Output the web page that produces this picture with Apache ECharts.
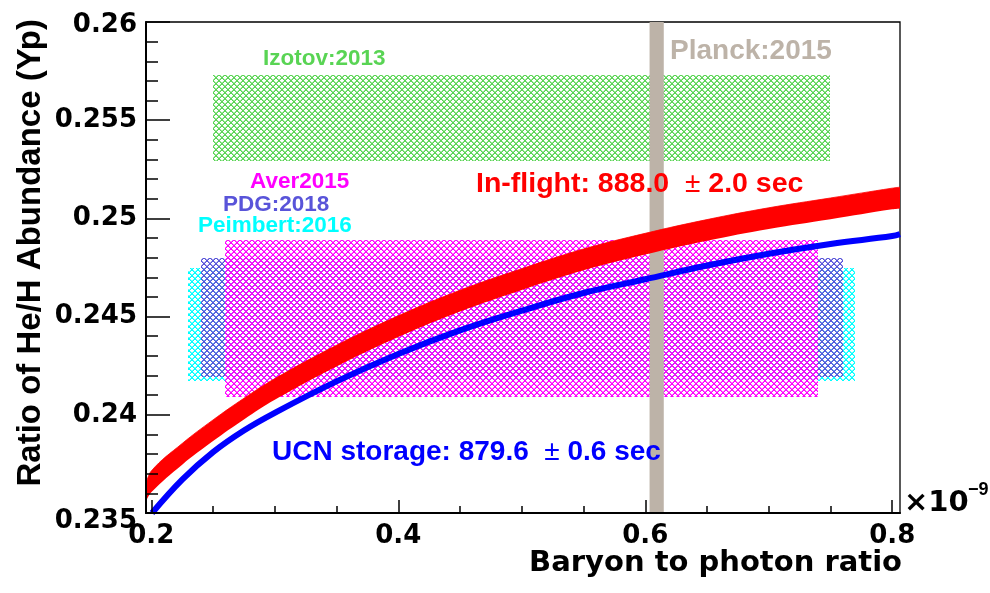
<!DOCTYPE html>
<html>
<head>
<meta charset="utf-8">
<script src="https://cdn.jsdelivr.net/npm/echarts@6/dist/echarts.min.js"></script>
<style>
  html, body { margin: 0; padding: 0; background: #ffffff; }
  #chart { width: 990px; height: 593px; }
</style>
</head>
<body>
<div id="chart"></div>
<script>
// ---- axes ----
const xRange = [0.1957, 0.8063];
const xMajorTicks = [0.2, 0.4, 0.6, 0.8];
const xMinorTicks = [0.2, 0.25, 0.3, 0.35, 0.4, 0.45, 0.5, 0.55, 0.6, 0.65, 0.7, 0.75, 0.8];
const yRange = [0.235, 0.26];
const yStep = 0.005;

// ---- measured helium abundance ranges (Yp) ----
const boxNames = ['Peimbert:2016', 'PDG:2018', 'Aver2015', 'Izotov:2013'];
const boxEtaFrom = [0.23, 0.24, 0.26, 0.25];
const boxEtaTo = [0.77, 0.76, 0.74, 0.75];
const boxYpLow = [0.2417, 0.2419, 0.2409, 0.2529];
const boxYpHigh = [0.2475, 0.2480, 0.2489, 0.2573];

// ---- Planck 2015 baryon-to-photon ratio ----
const planckEta = [0.6035, 0.615];

// ---- BBN prediction, in-flight neutron lifetime 888.0 +- 2.0 s ----
const inflightEta   = [0.1957, 0.200, 0.225, 0.250, 0.275, 0.300, 0.350, 0.400, 0.450, 0.500, 0.550, 0.600, 0.650, 0.700, 0.750, 0.800, 0.8063];
const inflightUpper = [0.2364, 0.23714, 0.23854, 0.23974, 0.24084, 0.24184, 0.24354, 0.24504, 0.24634, 0.24744, 0.24844, 0.24924, 0.24994, 0.25054, 0.25104, 0.25154, 0.25159];
const inflightLower = [0.2356, 0.23606, 0.23746, 0.23866, 0.23976, 0.24076, 0.24246, 0.24396, 0.24526, 0.24636, 0.24736, 0.24816, 0.24886, 0.24946, 0.24996, 0.25046, 0.25051];

// ---- BBN prediction, UCN storage lifetime 879.6 +- 0.6 s ----
const ucnEta = [0.2006, 0.225, 0.250, 0.275, 0.300, 0.350, 0.400, 0.450, 0.500, 0.550, 0.600, 0.650, 0.700, 0.750, 0.800, 0.8063];
const ucnYp  = [0.2350, 0.2367, 0.2381, 0.2392, 0.2401, 0.2417, 0.2431, 0.2443, 0.2453, 0.2462, 0.2469, 0.2476, 0.2482, 0.2487, 0.2491, 0.2492];

// ---- styling ----
const palette = {
  'Peimbert:2016': '#00ffff',
  'PDG:2018': '#5954d9',
  'Aver2015': '#ff00ff',
  'Izotov:2013': '#59d454',
  planck: '#bdb3a8',
  inflight: '#ff0000',
  ucn: '#0000ff'
};
const tickFont = { fontFamily: 'DejaVu Sans', fontWeight: 'bold', fontSize: 26, color: '#000' };

// cross-hatch fill tile: two diagonals on a 6px cell, one solid pixel plus a soft neighbour per row
function hatchTile(color) {
  const n = 6;
  const c = document.createElement('canvas');
  c.width = n; c.height = n;
  const g = c.getContext('2d');
  g.fillStyle = color;
  g.globalAlpha = 0.6;
  for (let i = 0; i < n; i++) {
    g.fillRect((i + 1) % n, i, 1, 1);
    g.fillRect((n - 2 - i + n) % n, i, 1, 1);
  }
  g.globalAlpha = 1;
  for (let i = 0; i < n; i++) {
    g.fillRect(i, i, 1, 1);
    g.fillRect(n - 1 - i, i, 1, 1);
  }
  return c;
}
const hatchFills = boxNames.map(n => ({ image: hatchTile(palette[n]), repeat: 'repeat' }));

const boxData = boxNames.map((n, i) => [boxEtaFrom[i], boxEtaTo[i], boxYpLow[i], boxYpHigh[i]]);
// band rows are [Yp, eta] so that the stack runs along the Yp dimension
const inflightLowData = inflightEta.map((x, i) => [inflightLower[i], x]);
const inflightWidthData = inflightEta.map((x, i) => [inflightUpper[i] - inflightLower[i], x]);
const ucnData = ucnEta.map((x, i) => [x, ucnYp[i]]);

const chart = echarts.init(document.getElementById('chart'), null, { renderer: 'canvas', width: 990, height: 593 });

const bold = (size, family) => `bold ${size}px ${family || '"Liberation Sans", Arial, sans-serif'}`;

chart.setOption({
  animation: false,
  backgroundColor: '#ffffff',
  grid: {
    left: 146, top: 22, width: 754, height: 491,
    show: true, borderColor: '#000', borderWidth: 1.3, backgroundColor: 'transparent'
  },
  xAxis: [
    {
      type: 'value', min: xRange[0], max: xRange[1], position: 'bottom', z: 10,
      axisLine: { show: true, onZero: false, lineStyle: { color: '#000', width: 2 } },
      axisTick: { show: true, inside: true, length: 13, customValues: xMajorTicks, lineStyle: { color: '#000', width: 1.5 } },
      axisLabel: Object.assign({ margin: 10, customValues: xMajorTicks, formatter: v => String(+v.toFixed(2)) }, tickFont),
      splitLine: { show: false }
    },
    {
      type: 'value', min: xRange[0], max: xRange[1], position: 'bottom', z: 10,
      axisLine: { show: false },
      axisTick: { show: true, inside: true, length: 7, customValues: xMinorTicks, lineStyle: { color: '#000', width: 1.5 } },
      axisLabel: { show: false },
      splitLine: { show: false }
    }
  ],
  yAxis: {
    type: 'value', min: yRange[0], max: yRange[1], interval: yStep, z: 10,
    axisLine: { show: true, onZero: false, lineStyle: { color: '#000', width: 2 } },
    axisTick: { show: true, inside: true, length: 24, lineStyle: { color: '#000', width: 1.5 } },
    minorTick: { show: true, splitNumber: 5, length: 12, lineStyle: { color: '#000', width: 1.5 } },
    splitLine: { show: false },
    minorSplitLine: { show: false },
    axisLabel: Object.assign({
      margin: 9,
      formatter: v => {
        const s = String(+v.toFixed(3));
        if (Math.abs(v - yRange[0]) < 1e-9) return '{lo|' + s + '}';
        if (Math.abs(v - yRange[1]) < 1e-9) return '{hi|' + s + '}';
        return '{n|' + s + '}';
      },
      rich: {
        n: tickFont,
        lo: Object.assign({ padding: [16, 0, 0, 0] }, tickFont),
        hi: Object.assign({ padding: [6, 0, 0, 0] }, tickFont)
      }
    }, tickFont)
  },
  series: [
    {
      name: 'Yp measurements', type: 'custom', z: 1, silent: true,
      data: boxData,
      encode: { x: [0, 1], y: [2, 3] },
      renderItem: (params, api) => {
        const tl = api.coord([api.value(0), api.value(3)]);
        const br = api.coord([api.value(1), api.value(2)]);
        const x0 = Math.round(tl[0]), y0 = Math.round(tl[1]);
        return {
          type: 'rect',
          shape: { x: x0, y: y0, width: Math.round(br[0]) - x0, height: Math.round(br[1]) - y0 },
          style: { fill: hatchFills[params.dataIndex], stroke: null }
        };
      }
    },
    {
      name: 'Planck:2015', type: 'custom', z: 3, silent: true,
      data: [planckEta],
      encode: { x: [0, 1] },
      renderItem: (params, api) => {
        const tl = api.coord([api.value(0), yRange[1]]);
        const br = api.coord([api.value(1), yRange[0]]);
        return {
          type: 'rect',
          shape: { x: tl[0], y: tl[1], width: br[0] - tl[0], height: br[1] - tl[1] },
          style: { fill: palette.planck }
        };
      }
    },
    {
      name: 'in-flight lower', type: 'line', stack: 'inflight', z: 4, silent: true,
      data: inflightLowData, encode: { x: 1, y: 0 }, symbol: 'none', smooth: 0.4,
      lineStyle: { width: 0, opacity: 0 }
    },
    {
      name: 'In-flight', type: 'line', stack: 'inflight', z: 4, silent: true,
      data: inflightWidthData, encode: { x: 1, y: 0 }, symbol: 'none', smooth: 0.4,
      lineStyle: { width: 0.8, color: palette.inflight },
      areaStyle: { color: palette.inflight, opacity: 1 }
    },
    {
      name: 'UCN storage', type: 'line', z: 5, silent: true,
      data: ucnData, symbol: 'none', smooth: 0.4,
      lineStyle: { width: 6, color: palette.ucn }
    }
  ],
  graphic: [
    { type: 'text', z: 20, x: 263, y: 59, style: { text: 'Izotov:2013', font: bold(22.5), fill: palette['Izotov:2013'], align: 'left', verticalAlign: 'middle' } },
    { type: 'text', z: 20, x: 670, y: 51, style: { text: 'Planck:2015', font: bold(28), fill: palette.planck, align: 'left', verticalAlign: 'middle' } },
    { type: 'text', z: 20, x: 250, y: 182, style: { text: 'Aver2015', font: bold(22.5), fill: palette['Aver2015'], align: 'left', verticalAlign: 'middle' } },
    { type: 'text', z: 20, x: 223, y: 204.5, style: { text: 'PDG:2018', font: bold(22.5), fill: palette['PDG:2018'], align: 'left', verticalAlign: 'middle' } },
    { type: 'text', z: 20, x: 198, y: 226, style: { text: 'Peimbert:2016', font: bold(22.5), fill: palette['Peimbert:2016'], align: 'left', verticalAlign: 'middle' } },
    { type: 'text', z: 20, x: 476, y: 184, style: {
        text: '{b|In-flight: 888.0  }{p|±}{b| 2.0 sec}',
        rich: {
          b: { font: bold(28.5), fill: palette.inflight },
          p: { font: '28px "Liberation Sans", Arial, sans-serif', fill: palette.inflight }
        },
        align: 'left', verticalAlign: 'middle' } },
    { type: 'text', z: 20, x: 272, y: 452, style: {
        text: '{b|UCN storage: 879.6  }{p|±}{b| 0.6 sec}',
        rich: {
          b: { font: bold(28), fill: palette.ucn },
          p: { font: '28px "Liberation Sans", Arial, sans-serif', fill: palette.ucn }
        },
        align: 'left', verticalAlign: 'middle' } },
    { type: 'text', z: 20, x: 904, y: 503, style: { text: '×10', font: bold(29, '"DejaVu Sans", sans-serif'), fill: '#000', align: 'left', verticalAlign: 'middle' } },
    { type: 'text', z: 20, x: 968, y: 490, style: { text: '−9', font: bold(18), fill: '#000', align: 'left', verticalAlign: 'middle' } },
    { type: 'text', z: 20, x: 902, y: 563, style: { text: 'Baryon to photon ratio', font: bold(29, '"DejaVu Sans", sans-serif'), fill: '#000', align: 'right', verticalAlign: 'middle' } },
    { type: 'text', z: 20, x: 30.5, y: 19, rotation: Math.PI / 2, style: { text: 'Ratio of He/H Abundance (Yp)', font: bold(33), fill: '#000', align: 'right', verticalAlign: 'middle' } }
  ]
});
</script>
</body>
</html>
